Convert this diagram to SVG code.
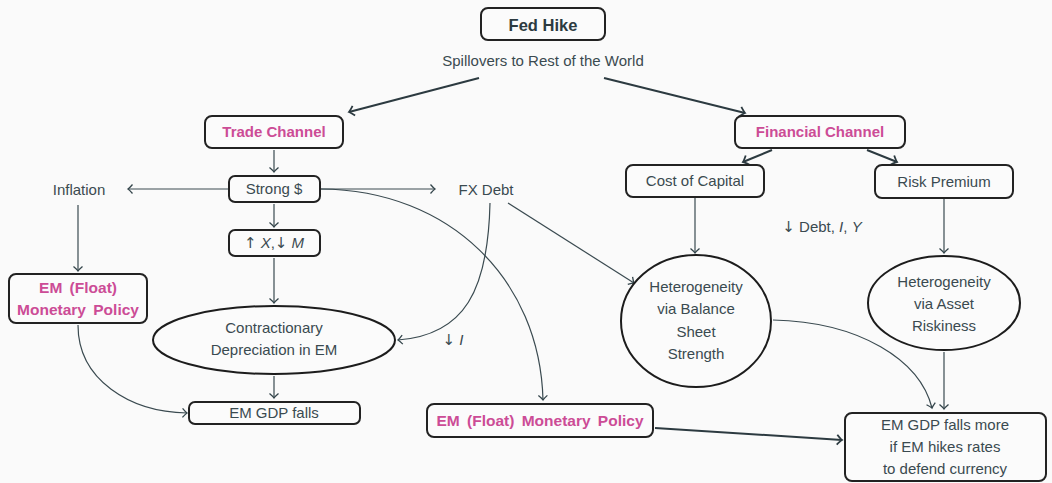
<svg xmlns="http://www.w3.org/2000/svg" width="1052" height="483" viewBox="0 0 1052 483">
<defs>
<marker id="ah" markerWidth="12" markerHeight="12" refX="0" refY="0" viewBox="-6 -6 12 12" orient="auto" markerUnits="userSpaceOnUse">
<path d="M -4.5 -4.5 Q -1.5 -1 0 0 Q -1.5 1 -4.5 4.5" fill="none" stroke="#34454b" stroke-width="1.3"/>
</marker>
<marker id="ahb" markerWidth="14" markerHeight="14" refX="0" refY="0" viewBox="-7 -7 14 14" orient="auto" markerUnits="userSpaceOnUse">
<path d="M -5 -5 Q -1.5 -1 0 0 Q -1.5 1 -5 5" fill="none" stroke="#2c3a40" stroke-width="1.8"/>
</marker>
</defs>
<style>
text { font-family: "Liberation Sans", "DejaVu Sans", sans-serif; font-size: 15px; fill: #3a4a50; text-anchor: middle; }
.b { font-weight: bold; fill: #2c3a40; }
.p { font-weight: bold; fill: #cc4c96; font-size: 15px; }
.pw { word-spacing: 3px; font-size: 15.5px; }
.box { fill: #fbfbfb; stroke: #222; stroke-width: 2; }
.ell { fill: #fbfbfb; stroke: #1c1c1c; stroke-width: 2; }
.c { fill: none; stroke: #3a4a50; stroke-width: 1.2; marker-end: url(#ah); }
.t { fill: none; stroke: #2c3a40; stroke-width: 2; marker-end: url(#ahb); }
.i { font-style: italic; }
.a { font-family: "DejaVu Sans", sans-serif; fill: #3a4a50; }
</style>
<rect width="1052" height="483" fill="#fafafa"/>

<g id="connectors">
<path class="t" d="M 479 78 L 349 112"/>
<path class="t" d="M 604 78 L 745 113"/>
<path class="c" d="M 274 150 L 274 172"/>
<path class="t" d="M 772 150 L 743 162"/>
<path class="t" d="M 867 150 L 897 162"/>
<path class="c" d="M 228 189 L 128 189"/>
<path class="c" d="M 321 189 L 435 189"/>
<path class="c" d="M 274 204 L 274 227"/>
<path class="c" d="M 274 258 L 274 303"/>
<path class="c" d="M 274 376 L 274 398"/>
<path class="c" d="M 78 205 L 78 271"/>
<path class="c" d="M 78 325 C 78 380, 130 412, 187 413"/>
<path class="c" d="M 490 203 C 488 290, 465 335, 398 340"/>
<path class="c" d="M 508 203 L 634 283"/>
<path class="c" d="M 321 189 C 450 190, 540 280, 543 400"/>
<path class="c" d="M 695 198 L 695 253"/>
<path class="c" d="M 944 199 L 944 253"/>
<path class="c" d="M 944 352 L 944 409"/>
<path class="c" d="M 773 320 C 860 322, 920 360, 932 408"/>
<path class="t" d="M 655 428 L 842 440"/>
</g>

<g id="fed-hike">
<rect class="box" x="481" y="8" width="124" height="32" rx="7"/>
<text class="b" x="543" y="31" style="font-size:16.5px">Fed Hike</text>
</g>
<g id="spillovers">
<text x="543" y="66">Spillovers to Rest of the World</text>
</g>
<g id="trade-channel">
<rect class="box" x="205" y="116" width="138" height="32" rx="7"/>
<text class="p" x="274" y="137">Trade Channel</text>
</g>
<g id="financial-channel">
<rect class="box" x="735" y="116" width="170" height="32" rx="7"/>
<text class="p" x="820" y="137">Financial Channel</text>
</g>
<g id="strong-dollar">
<rect class="box" x="229" y="176" width="91" height="26" rx="6"/>
<text x="274" y="194">Strong $</text>
</g>
<g id="inflation">
<text x="79" y="195">Inflation</text>
</g>
<g id="fx-debt">
<text x="486" y="195">FX Debt</text>
</g>
<g id="cost-of-capital">
<rect class="box" x="626" y="165" width="138" height="32" rx="7"/>
<text x="695" y="186">Cost of Capital</text>
</g>
<g id="risk-premium">
<rect class="box" x="875" y="165" width="138" height="33" rx="7"/>
<text x="944" y="187">Risk Premium</text>
</g>
<g id="debt-label">
<text x="822" y="232"><tspan class="a">↓</tspan> Debt, <tspan class="i">I</tspan>, <tspan class="i">Y</tspan></text>
</g>
<g id="xm">
<rect class="box" x="229" y="230" width="91" height="26" rx="6"/>
<text x="274" y="248"><tspan class="a">↑</tspan> <tspan class="i">X</tspan>,<tspan class="a">↓</tspan> <tspan class="i">M</tspan></text>
</g>
<g id="em-float-left">
<rect class="box" x="9" y="274" width="138" height="49" rx="7"/>
<text class="p pw" x="78" y="293">EM (Float)</text>
<text class="p pw" x="78" y="315">Monetary Policy</text>
</g>
<g id="contractionary">
<ellipse class="ell" cx="274" cy="340" rx="121" ry="34"/>
<text x="274" y="333">Contractionary</text>
<text x="274" y="355">Depreciation in EM</text>
</g>
<g id="i-label">
<text x="453" y="345"><tspan class="a">↓</tspan> <tspan class="i">I</tspan></text>
</g>
<g id="em-gdp-falls">
<rect class="box" x="189" y="402" width="171" height="22" rx="6"/>
<text x="274" y="418">EM GDP falls</text>
</g>
<g id="em-float-mid">
<rect class="box" x="427" y="404" width="226" height="33" rx="7"/>
<text class="p pw" x="540" y="426">EM (Float) Monetary Policy</text>
</g>
<g id="het-balance">
<ellipse class="ell" cx="696" cy="321" rx="75" ry="66"/>
<text x="696" y="292">Heterogeneity</text>
<text x="696" y="314">via Balance</text>
<text x="696" y="337">Sheet</text>
<text x="696" y="359">Strength</text>
</g>
<g id="het-asset">
<ellipse class="ell" cx="944" cy="303" rx="76" ry="47"/>
<text x="944" y="287">Heterogeneity</text>
<text x="944" y="309">via Asset</text>
<text x="944" y="331">Riskiness</text>
</g>
<g id="em-gdp-more">
<rect class="box" x="845" y="413" width="201" height="68" rx="7"/>
<text x="945" y="430">EM GDP falls more</text>
<text x="945" y="452">if EM hikes rates</text>
<text x="945" y="474">to defend currency</text>
</g>
</svg>
